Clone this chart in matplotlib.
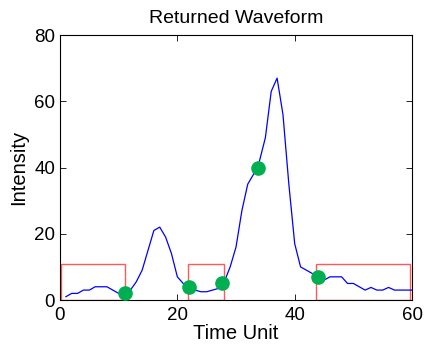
import matplotlib
matplotlib.use("Agg")
import matplotlib.pyplot as plt
from matplotlib.patches import Rectangle

x = list(range(1, 61))
intensity = [1, 2, 2, 3, 3, 4, 4, 4, 3, 2,
             2, 3, 5.5, 9, 15, 21, 22, 19, 14, 7,
             5, 4, 3, 2.5, 2.5, 3, 3.5, 5.5, 10, 16,
             27, 35, 38, 42, 49, 63, 67, 56, 35, 17,
             10, 9, 8, 7, 6, 7, 7, 7, 5, 5,
             4, 3, 3.8, 3, 3, 3.8, 3, 3, 3, 3]

peak_x = [11, 22, 27.6, 33.7, 44]
peak_y = [2, 4, 5, 40, 7]

box_x0 = [0.2, 21.8, 43.6]
box_x1 = [11, 28, 59.6]
box_y0 = [0, 0, 0]
box_y1 = [11, 11, 11]

plt.rcParams['font.family'] = ['Liberation Sans', 'DejaVu Sans']
fig = plt.figure(figsize=(4.27, 3.47), dpi=100)
ax = fig.add_axes([0.1405, 0.1354, 0.8245, 0.7636])

for a, b, c, d in zip(box_x0, box_x1, box_y0, box_y1):
    ax.add_patch(Rectangle((a, c), b - a, d - c, fill=False,
                           edgecolor='#ff0000', alpha=0.65, lw=1.0, zorder=2))

ax.plot(x, intensity, color='#0000ff', lw=0.9, zorder=3)
ax.plot(peak_x, peak_y, 'o', color='#00b050', markersize=9.5, zorder=4)

ax.set_xlim(0, 60)
ax.set_ylim(0, 80)
ax.set_xticks([0, 20, 40, 60])
ax.set_yticks([0, 20, 40, 60, 80])
ax.tick_params(direction='in', top=True, right=True, labelsize=13.5, length=4, width=0.6)
ax.tick_params(axis='x', pad=5)
for s in ax.spines.values():
    s.set_linewidth(0.8)
ax.set_xlabel('Time Unit', fontsize=14.5, labelpad=0)
ax.set_ylabel('Intensity', fontsize=14.5, labelpad=4)
ax.set_title('Returned Waveform', fontsize=14, pad=9)

fig.savefig('out.png', dpi=100)
